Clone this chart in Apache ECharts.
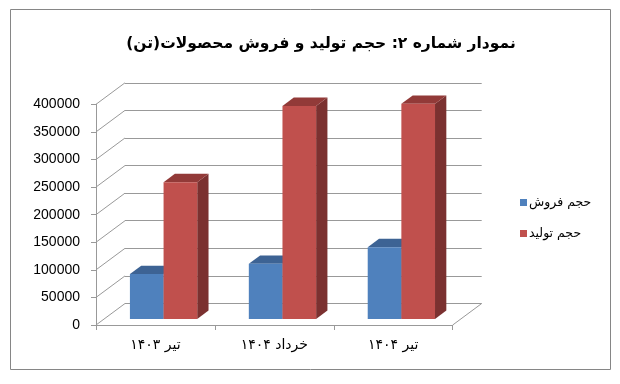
<!DOCTYPE html>
<html>
<head>
<meta charset="utf-8">
<script src="https://cdn.jsdelivr.net/npm/echarts@6/dist/echarts.min.js"></script>
<style>
html,body{margin:0;padding:0;background:#fff;}
#chart{width:620px;height:384px;}
</style>
</head>
<body>
<div id="chart"></div>
<script>
// ---- data ----
const titleText = 'نمودار شماره ۲: حجم تولید و فروش محصولات(تن)';
const categories = ['تیر ۱۴۰۳', 'خرداد ۱۴۰۴', 'تیر ۱۴۰۴'];
const seriesNames = ['حجم فروش', 'حجم تولید'];
const salesValues = [81500, 100000, 130000];
const productionValues = [248000, 386000, 390000];
const yTickValues = [0, 50000, 100000, 150000, 200000, 250000, 300000, 350000, 400000];

// ---- 3D look constants ----
const DX = 29, DY = -21.5;          // wall depth offset
const FRONT = 0.28;                 // bar front face depth fraction
const BAR_DEPTH = 0.39;             // bar depth fraction
const BAR_FRAC = 0.283;             // bar width as fraction of category band
const colors = {
  blue: {front: '#4F81BD', top: '#3D6394', side: '#385D8A'},
  red:  {front: '#C0504D', top: '#923A38', side: '#7B3130'}
};

const chart = echarts.init(document.getElementById('chart'), null, {renderer: 'canvas'});

function barRender(seriesIdx, pal) {
  return function (params, api) {
    const i = api.value(0), v = api.value(1);
    const base = api.coord([i, 0]);
    const top = api.coord([i, v]);
    const band = api.size([1, 0])[0];
    const bw = band * BAR_FRAC;
    const fx = FRONT * DX, fy = FRONT * DY;
    const dx = BAR_DEPTH * DX, dy = BAR_DEPTH * DY;
    const x0 = base[0] + fx - bw + seriesIdx * bw;
    const yb = base[1] + fy, yt = top[1] + fy;
    return {
      type: 'group',
      children: [
        {type: 'polygon', shape: {points: [[x0 + bw, yt], [x0 + bw + dx, yt + dy], [x0 + bw + dx, yb + dy], [x0 + bw, yb]]},
         style: {fill: pal.side}},
        {type: 'polygon', shape: {points: [[x0, yt], [x0 + bw, yt], [x0 + bw + dx, yt + dy], [x0 + dx, yt + dy]]},
         style: {fill: pal.top}},
        {type: 'rect', shape: {x: x0, y: yt, width: bw, height: yb - yt},
         style: {fill: pal.front}}
      ]
    };
  };
}

const option = {
  animation: false,
  backgroundColor: '#fff',
  title: {
    text: titleText,
    left: 316, top: 31, textAlign: 'center',
    textStyle: {fontFamily: 'DejaVu Sans', fontWeight: 'bold', fontSize: 15.5, color: '#000'}
  },
  legend: {
    data: seriesNames,
    orient: 'vertical',
    left: 515, top: 191,
    itemWidth: 7, itemHeight: 7, itemGap: 18,
    icon: 'rect',
    textStyle: {fontFamily: 'DejaVu Sans', fontSize: 12.5, color: '#000', padding: [0, 0, 0, -3]}
  },
  graphic: [{
    type: 'rect', shape: {x: 10.5, y: 9.5, width: 600, height: 360},
    style: {fill: 'none', stroke: '#868686', lineWidth: 1}, z: -10
  }],
  grid: [
    {left: 96, right: 167.3, top: 104.3, bottom: 59},
    {left: 125, right: 138.3, top: 82.8, bottom: 80.5}
  ],
  xAxis: [
    {type: 'category', gridIndex: 0, data: categories,
     axisLine: {lineStyle: {color: '#999', width: 1}},
     axisTick: {show: true, length: 5, lineStyle: {color: '#999'}},
     axisLabel: {fontFamily: 'DejaVu Sans', fontSize: 14, color: '#000', margin: 13}},
    {type: 'category', gridIndex: 1, data: categories, show: false}
  ],
  yAxis: [
    {type: 'value', gridIndex: 0, min: 0, max: 400000, interval: 50000,
     axisLine: {show: true, lineStyle: {color: '#999'}},
     axisTick: {show: true, length: 5, lineStyle: {color: '#999'}},
     splitLine: {show: false},
     axisLabel: {fontFamily: 'Liberation Sans', fontSize: 14, color: '#000', margin: 16,
                 formatter: function (v) { return String(v); }}},
    {type: 'value', gridIndex: 1, min: 0, max: 400000, interval: 50000,
     axisLine: {show: false}, axisTick: {show: false}, axisLabel: {show: false},
     splitLine: {show: true, lineStyle: {color: '#999', width: 1}}}
  ],
  series: [
    {
      type: 'custom', name: 'connectors', xAxisIndex: 0, yAxisIndex: 0, silent: true,
      data: yTickValues.map(v => [0, v]),
      encode: {x: 0, y: 1},
      renderItem: function (params, api) {
        const p = api.coord([0, api.value(1)]);
        const x = p[0] - api.size([1, 0])[0] / 2;
        return {type: 'line', shape: {x1: x, y1: p[1], x2: x + DX, y2: p[1] + DY},
                style: {stroke: '#999', lineWidth: 1}};
      },
      z: 1
    },
    {
      type: 'custom', name: 'floorEdge', xAxisIndex: 0, yAxisIndex: 0, silent: true,
      data: [[categories.length - 1, 0]],
      encode: {x: 0, y: 1},
      renderItem: function (params, api) {
        const p = api.coord([api.value(0), 0]);
        const x = p[0] + api.size([1, 0])[0] / 2;
        return {type: 'line', shape: {x1: x, y1: p[1], x2: x + DX, y2: p[1] + DY},
                style: {stroke: '#999', lineWidth: 1}};
      },
      z: 1
    },
    {
      type: 'custom', name: seriesNames[0], xAxisIndex: 0, yAxisIndex: 0,
      itemStyle: {color: colors.blue.front},
      data: salesValues.map((v, i) => [i, v]),
      encode: {x: 0, y: 1},
      renderItem: barRender(0, colors.blue),
      z: 3
    },
    {
      type: 'custom', name: seriesNames[1], xAxisIndex: 0, yAxisIndex: 0,
      itemStyle: {color: colors.red.front},
      data: productionValues.map((v, i) => [i, v]),
      encode: {x: 0, y: 1},
      renderItem: barRender(1, colors.red),
      z: 4
    }
  ]
};
chart.setOption(option);
</script>
</body>
</html>
